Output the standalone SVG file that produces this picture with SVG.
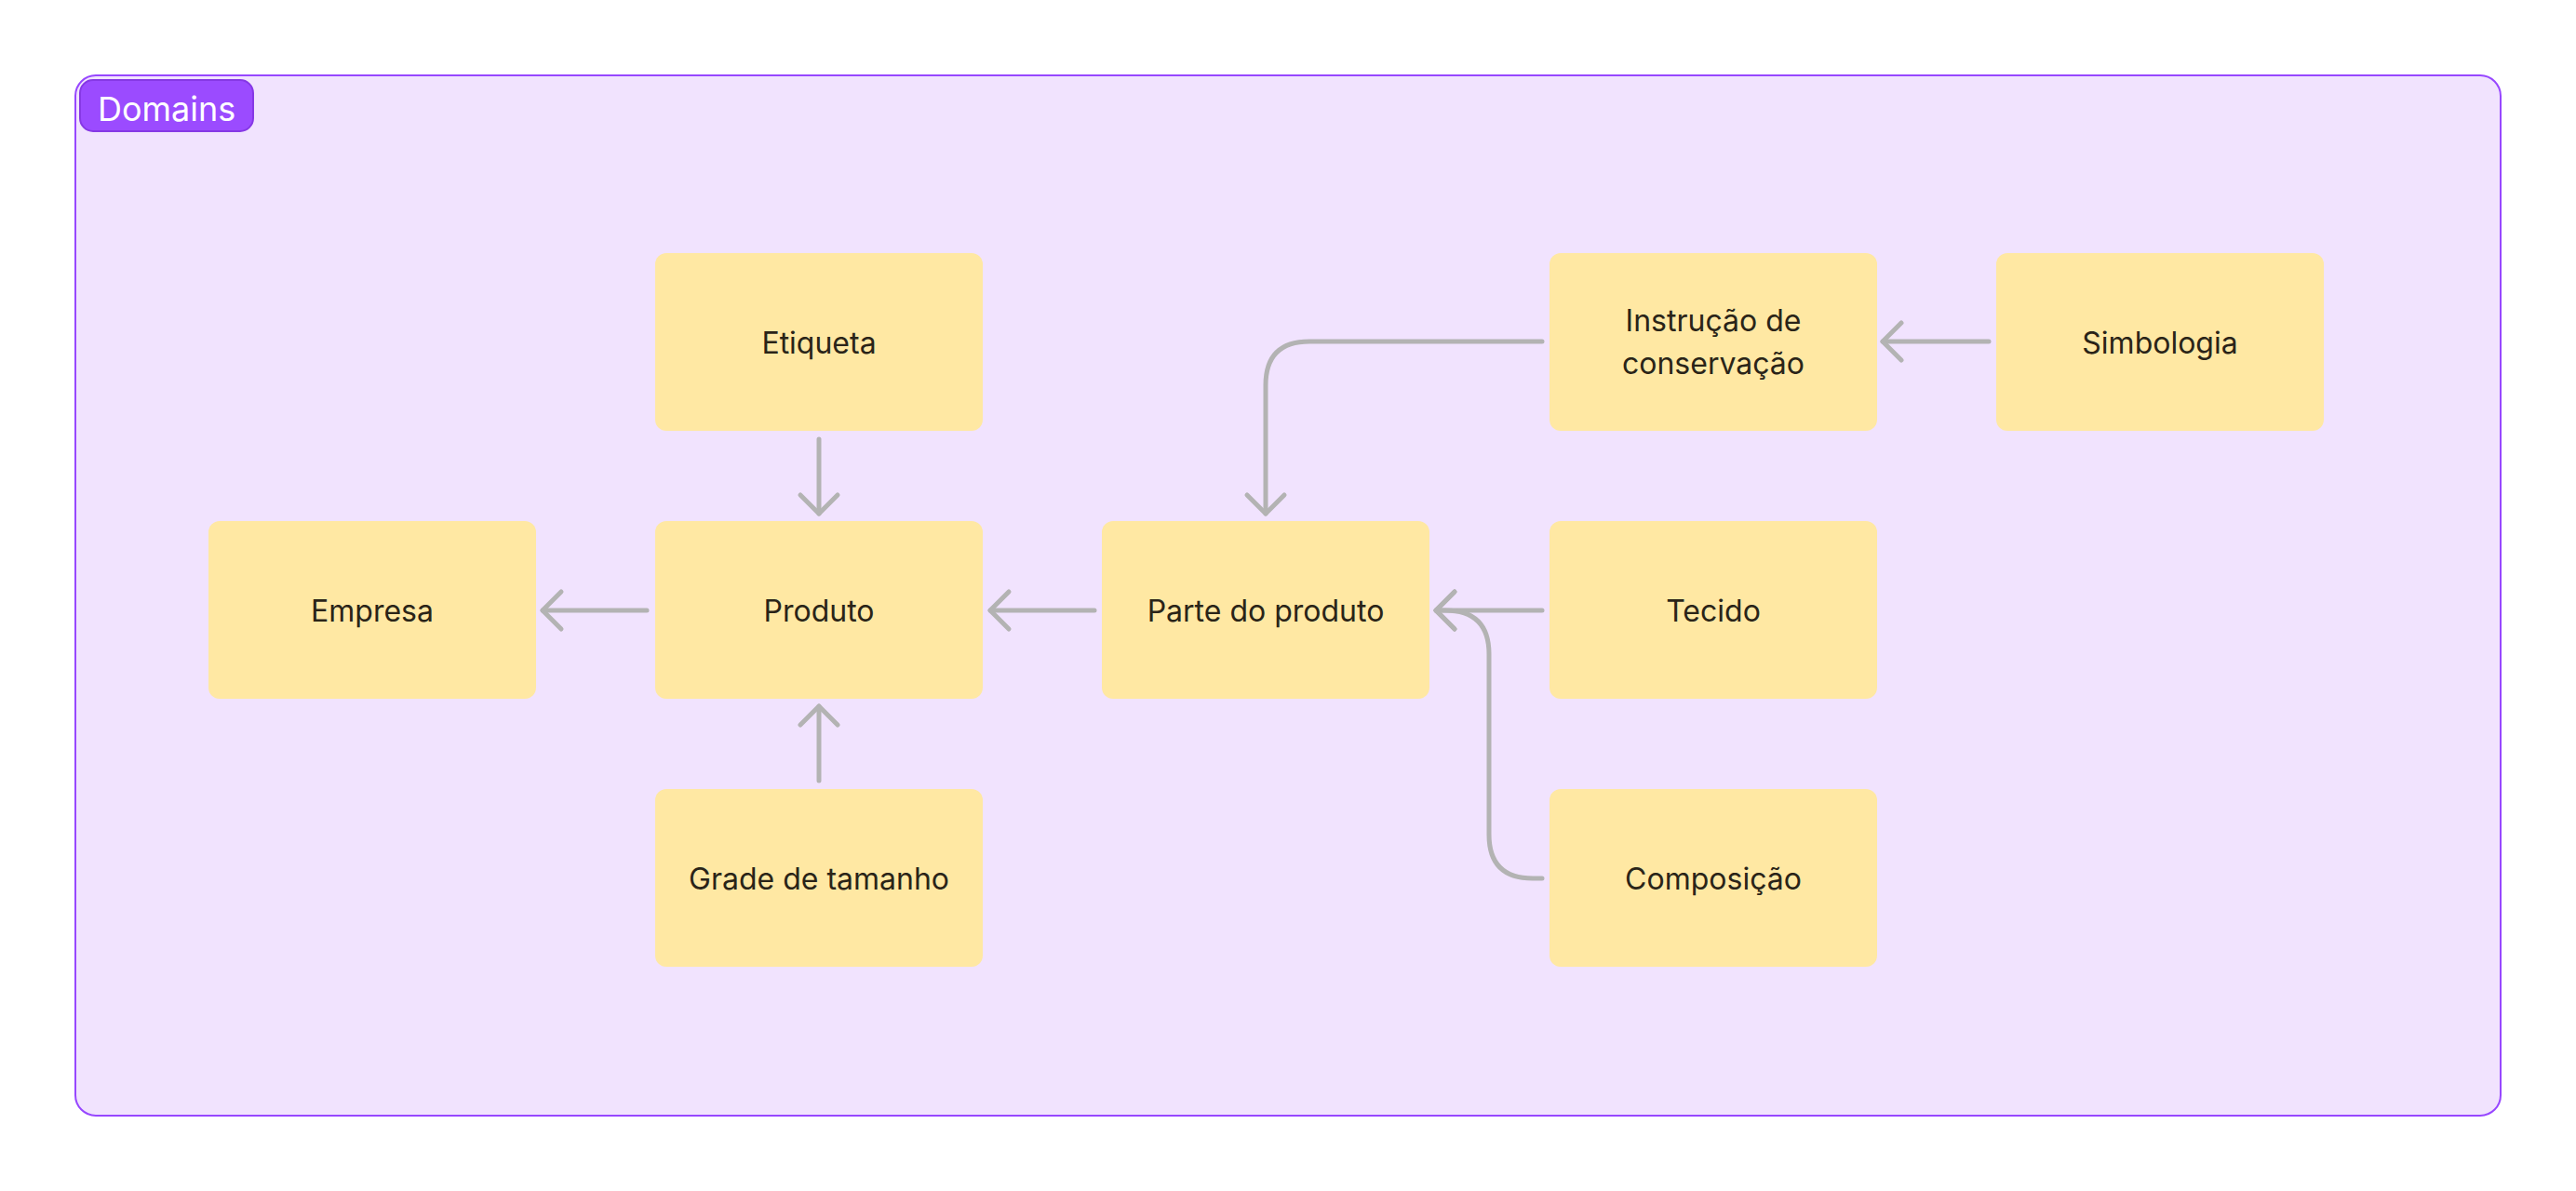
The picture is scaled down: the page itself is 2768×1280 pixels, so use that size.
<svg xmlns="http://www.w3.org/2000/svg" width="2768" height="1280" viewBox="0 0 2768 1280">
<style>
.node rect{fill:#FFE8A3;}
.node text{font-family:Inter,"Noto Sans","Liberation Sans",sans-serif;font-size:32px;fill:#2A2418;text-anchor:middle;}
.conn{fill:none;stroke:#B3B3B3;stroke-width:5;stroke-linecap:round;stroke-linejoin:round;}
</style>
<defs>
<marker id="arrow" markerUnits="userSpaceOnUse" viewBox="-30 -30 60 60" refX="0" refY="0" markerWidth="60" markerHeight="60" orient="auto">
<path d="M-20,-20 L0,0 L-20,20" fill="none" stroke="#B3B3B3" stroke-width="5" stroke-linecap="round" stroke-linejoin="round"/>
</marker>
</defs>
<rect width="2768" height="1280" fill="#FFFFFF"/>
<g id="domains">
<rect x="81" y="81" width="2606" height="1118" rx="22" fill="#F1E3FE" stroke="#9747FF" stroke-width="2"/>
<rect x="86" y="86" width="186" height="55" rx="14" fill="#9B4BFF" stroke="#8638E5" stroke-width="2"/>
<text x="105" y="130" font-family="Inter,'Noto Sans','Liberation Sans',sans-serif" font-size="36" fill="#FFFFFF">Domains</text>
</g>
<g id="connectors">
<path class="conn" marker-end="url(#arrow)" d="M880,472 V552"/>
<path class="conn" marker-end="url(#arrow)" d="M880,839 V759"/>
<path class="conn" marker-end="url(#arrow)" d="M695,656 H583"/>
<path class="conn" marker-end="url(#arrow)" d="M1176,656 H1064"/>
<path class="conn" marker-end="url(#arrow)" d="M1657,656 H1543"/>
<path class="conn" marker-end="url(#arrow)" d="M2137,367 H2023"/>
<path class="conn" marker-end="url(#arrow)" d="M1657,367 H1407 Q1360,367 1360,414 V552"/>
<path class="conn" marker-end="url(#arrow)" d="M1657,944 H1647 Q1600,944 1600,897 V703 Q1600,656 1553,656 H1543"/>
</g>
<g id="etiqueta" class="node"><rect x="704" y="272" width="352" height="191" rx="12"/><text x="880" y="380">Etiqueta</text></g>
<g id="produto" class="node"><rect x="704" y="560" width="352" height="191" rx="12"/><text x="880" y="668">Produto</text></g>
<g id="empresa" class="node"><rect x="224" y="560" width="352" height="191" rx="12"/><text x="400" y="668">Empresa</text></g>
<g id="grade" class="node"><rect x="704" y="848" width="352" height="191" rx="12"/><text x="880" y="956">Grade de tamanho</text></g>
<g id="parte" class="node"><rect x="1184" y="560" width="352" height="191" rx="12"/><text x="1360" y="668">Parte do produto</text></g>
<g id="instrucao" class="node"><rect x="1665" y="272" width="352" height="191" rx="12"/><text x="1841" y="356">Instrução de</text><text x="1841" y="402">conservação</text></g>
<g id="simbologia" class="node"><rect x="2145" y="272" width="352" height="191" rx="12"/><text x="2321" y="380">Simbologia</text></g>
<g id="tecido" class="node"><rect x="1665" y="560" width="352" height="191" rx="12"/><text x="1841" y="668">Tecido</text></g>
<g id="composicao" class="node"><rect x="1665" y="848" width="352" height="191" rx="12"/><text x="1841" y="956">Composição</text></g>
</svg>
